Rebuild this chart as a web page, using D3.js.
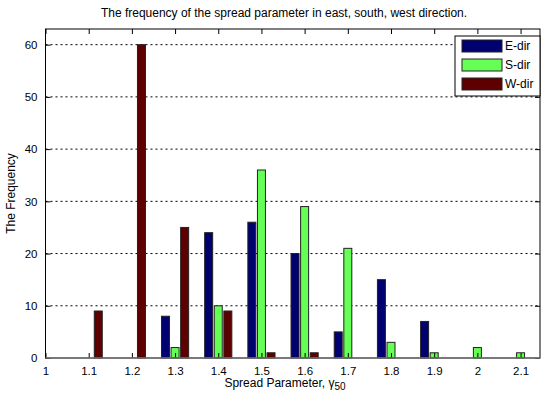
<!DOCTYPE html>
<html><head><meta charset="utf-8">
<script src="https://cdn.jsdelivr.net/npm/d3@7"></script>
<style>body{margin:0;background:#fff}svg{display:block}text{font-family:"Liberation Sans",Arial,sans-serif}</style>
</head><body>
<svg id="c" width="544" height="396"></svg>
<script>
const categories = [1.1,1.2,1.3,1.4,1.5,1.6,1.7,1.8,1.9,2.0,2.1];
const seriesNames = ["E-dir","S-dir","W-dir"];
const eDir = [0,0,8,24,26,20,5,15,7,0,0];
const sDir = [0,0,2,10,36,29,21,3,1,2,1];
const wDir = [9,60,25,9,1,1,0,0,0,0,0];
const xTicks = [1,1.1,1.2,1.3,1.4,1.5,1.6,1.7,1.8,1.9,2,2.1];
const xTickLabels = ["1","1.1","1.2","1.3","1.4","1.5","1.6","1.7","1.8","1.9","2","2.1"];
const yTicks = [0,10,20,30,40,50,60];
const colors = ["#000070","#66ff55","#5e0000"];

const svg = d3.select("#c");
const L=45.5, R=540, T=29, B=358;
const x = d3.scaleLinear().domain([1,2.145]).range([L,R]);
const y = d3.scaleLinear().domain([0,63]).range([B,T]);

// grid
svg.append("g").selectAll("line").data(yTicks.filter(d=>d>0)).join("line")
  .attr("x1",L).attr("x2",R).attr("y1",d=>y(d)).attr("y2",d=>y(d))
  .attr("stroke","#000").attr("stroke-width",1).attr("stroke-dasharray","2,3");

const series=[eDir,sDir,wDir];
const offs=[-0.0222,0,0.0222], bw=0.0185;
series.forEach((vals,si)=>{
  svg.append("g").selectAll("rect").data(vals.map((v,i)=>({c:categories[i],v})).filter(d=>d.v>0)).join("rect")
    .attr("x",d=>x(d.c+offs[si]-bw/2)).attr("width",d=>x(d.c+offs[si]+bw/2)-x(d.c+offs[si]-bw/2))
    .attr("y",d=>y(d.v)).attr("height",d=>y(0)-y(d.v))
    .attr("fill",colors[si]).attr("stroke","#222").attr("stroke-width",1);
});

// axes
const xb = d3.axisBottom(x).tickValues(xTicks).tickFormat((d,i)=>xTickLabels[i]).tickSizeInner(-5).tickSizeOuter(0).tickPadding(9);
svg.append("g").attr("transform",`translate(0,${B})`).call(xb);
const xt = d3.axisTop(x).tickValues(xTicks).tickFormat("").tickSizeInner(-5).tickSizeOuter(0);
svg.append("g").attr("transform",`translate(0,${T})`).call(xt);
const yl = d3.axisLeft(y).tickValues(yTicks).tickSizeInner(-5).tickSizeOuter(0).tickPadding(8);
svg.append("g").attr("transform",`translate(${L},0)`).call(yl);
const yr = d3.axisRight(y).tickValues(yTicks).tickFormat("").tickSizeInner(-5).tickSizeOuter(0);
svg.append("g").attr("transform",`translate(${R},0)`).call(yr);
svg.selectAll(".domain").remove();
svg.selectAll(".tick line").attr("stroke","#000");
svg.selectAll(".tick text").attr("font-size",11.5).attr("fill","#000").style("font-family",'"Liberation Sans",Arial,sans-serif');
svg.append("rect").attr("x",L).attr("y",T).attr("width",R-L).attr("height",B-T).attr("fill","none").attr("stroke","#000").attr("stroke-width",1);
svg.append("line").attr("x1",L).attr("x2",R).attr("y1",B).attr("y2",B).attr("stroke","#777").attr("stroke-width",1.5);

// title & labels
svg.append("text").attr("x",284).attr("y",17).attr("text-anchor","middle").attr("font-size",12).text("The frequency of the spread parameter in east, south, west direction.");
svg.append("text").attr("transform",`translate(15,${(T+B)/2}) rotate(-90)`).attr("text-anchor","middle").attr("font-size",12).text("The Frequency");
const xl = svg.append("text").attr("x",285).attr("y",387).attr("text-anchor","middle").attr("font-size",12);
xl.append("tspan").text("Spread Parameter, γ");
xl.append("tspan").attr("font-size",10).attr("dy",3).text("50");

// legend
const lg = svg.append("g");
lg.append("rect").attr("x",455).attr("y",36).attr("width",85).attr("height",60).attr("fill","#fff").attr("stroke","#000");
seriesNames.forEach((n,i)=>{
  const yy=46+i*19;
  lg.append("rect").attr("x",462).attr("y",yy-6).attr("width",40).attr("height",12).attr("fill",colors[i]).attr("stroke","#222");
  lg.append("text").attr("x",505).attr("y",yy+4).attr("font-size",12).text(n);
});
</script>
</body></html>
